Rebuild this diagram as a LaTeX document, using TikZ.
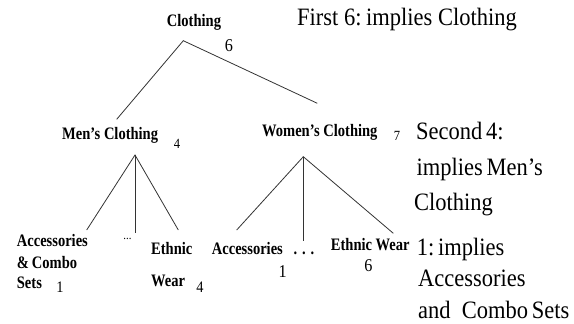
\documentclass[tikz,border=0pt]{standalone}
\usepackage{fontspec}
\setmainfont[FakeStretch=0.9]{Liberation Serif}
\newfontfamily\labelfont[FakeStretch=0.83]{Liberation Serif}
\begin{document}
\begin{tikzpicture}[x=1pt,y=-1pt,
  lbl/.style={inner sep=0pt,anchor=base west,font=\labelfont\fontsize{17.5}{19}\selectfont\bfseries},
  num/.style={inner sep=0pt,anchor=base,font=\fontsize{#1}{#1}\selectfont},
  note/.style={inner sep=0pt,anchor=base west,font=\fontsize{25}{27}\selectfont},
  edge/.style={draw=black!80,line width=0.8pt}]
\useasboundingbox (0,0) rectangle (574,324);

% --- level 0
\node[lbl,anchor=base] (root) at (194,27) {Clothing};
\node[num=18] (n-root) at (229,51.5) {6};

% --- level 1
\node[lbl] (men) at (62,139.5) {Men’s Clothing};
\node[num=14] (n-men) at (177,148) {4};
\node[lbl] (women) at (262,136) {Women’s Clothing};
\node[num=14] (n-women) at (397,140) {7};

% --- level 2, men
\node[lbl] (m-acc1) at (16.7,246.7) {Accessories};
\node[lbl] (m-acc2) at (16.7,268.3) {\&\,Combo};
\node[lbl] (m-acc3) at (16.7,288.3) {Sets};
\node[num=16] (n-macc) at (60,292.7) {1};
\node[num=12] (m-dots) at (127.5,239.3) {...};
\node[lbl,anchor=base] (w-dots) at (304,254) {. . .};
\node[lbl] (m-eth1) at (151,254) {Ethnic};
\node[lbl] (m-eth2) at (151,286.7) {Wear};
\node[num=16] (n-meth) at (200,292.7) {4};

% --- level 2, women
\node[lbl] (w-acc) at (211.7,254) {Accessories};
\node[num=18] (n-wacc) at (282.7,277.3) {1};
\node[lbl] (w-eth) at (330.7,250.7) {Ethnic Wear};
\node[num=18] (n-weth) at (368.3,271.7) {6};

% --- branch points and free ends
\coordinate (r-top) at (183.3,40.7);
\coordinate (r-l) at (116.7,119.3);
\coordinate (r-r) at (317.3,103.3);
\coordinate (m-top) at (135,155);
\coordinate (m-l) at (86.7,230);
\coordinate (m-m) at (135,233);
\coordinate (m-r) at (178.3,230);
\coordinate (w-top) at (303.3,156.7);
\coordinate (w-l) at (236.7,230);
\coordinate (w-m) at (303.3,240.7);
\coordinate (w-r) at (393.3,233.3);

\draw[edge] (r-l) -- (r-top) -- (r-r);
\draw[edge] (m-l) -- (m-top) -- (m-r);
\draw[edge] (m-top) -- (m-m);
\draw[edge] (w-l) -- (w-top) -- (w-r);
\draw[edge] (w-top) -- (w-m);

% --- explanations
\node[note] (e1) at (297,26) {First 6:\kern-1pt\ implies Clothing};
\node[note] (e2a) at (416,139.3) {Second\kern-2pt\ 4:};
\node[note] (e2b) at (416.5,175) {implies\kern-2pt\ Men’s};
\node[note] (e2c) at (414,210) {Clothing};
\node[note] (e3a) at (416.7,255) {1:\kern-2pt\ implies};
\node[note] (e3b) at (418,286.7) {Accessories};
\node[note] (e3c) at (418,318) {and\ \ Combo\kern-2pt\ Sets};
\end{tikzpicture}
\end{document}
